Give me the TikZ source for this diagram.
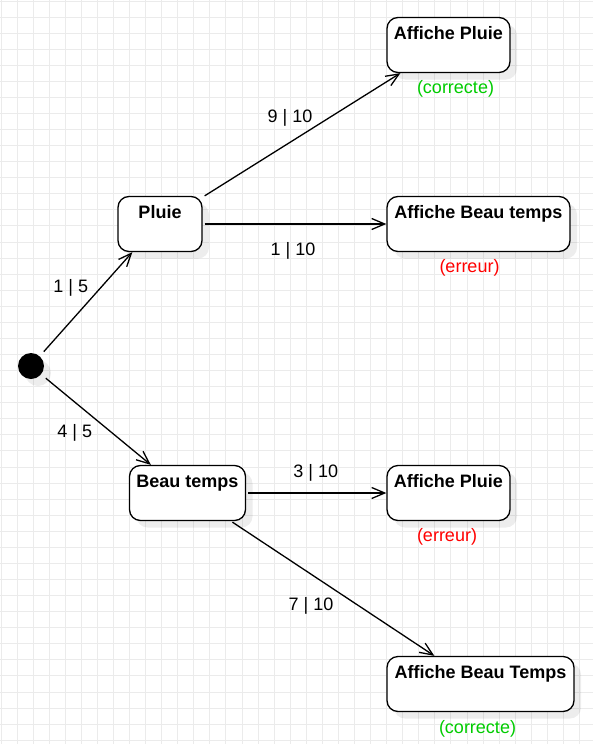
\documentclass[tikz,border=0pt]{standalone}
\usepackage{fontspec}
\setmainfont{Liberation Sans}
\usetikzlibrary{arrows.meta,shadows}
\definecolor{vert}{RGB}{0,204,0}
\definecolor{rouge}{RGB}{255,0,0}
\definecolor{grille}{RGB}{235,235,235}
\begin{document}
\begin{tikzpicture}[x=1pt, y=-1pt,
        font=\fontsize{18}{21}\selectfont,
        ombre/.style={drop shadow={shadow xshift=7pt, shadow yshift=-7pt, fill=black, opacity=0.07}},
        etat/.style={draw, fill=white, line width=1.3pt, rounded corners=11pt, minimum height=55pt, inner sep=0pt, ombre},
        titre/.style={font=\fontsize{18}{21}\selectfont\bfseries, anchor=base, inner sep=0pt, yshift=-23pt},
        correct/.style={text=vert, anchor=base, inner sep=0pt},
        faux/.style={text=rouge, anchor=base, inner sep=0pt},
        valeur/.style={anchor=base, inner sep=0pt},
        fleche/.style={line width=1.3pt, -{Straight Barb[length=13pt, width=11pt]}}]
        \useasboundingbox[fill=white] (0, 0) rectangle (593, 744);
        % grille
        \foreach \k in {0,...,36} \draw[grille, line width=1pt] (1+16.07*\k, 0) -- (1+16.07*\k, 744);
        \foreach \k in {0,...,46} \draw[grille, line width=1pt] (0, 1+16.07*\k) -- (593, 1+16.07*\k);
        % etats
        \node[circle, fill=black, minimum size=26pt, inner sep=0pt, ombre] (init) at (31, 366) {};
        \node[etat, minimum width=84pt, label={[titre]north:Pluie}] (pluie) at (160, 224) {};
        \node[etat, minimum width=116pt, label={[titre]north:Beau temps}] (beau) at (187.5, 493) {};
        \node[etat, minimum width=123pt, label={[titre]north:Affiche Pluie},
            label={[correct, xshift=7pt, yshift=-20pt]south:(correcte)}] (pluieA) at (448.5, 45) {};
        \node[etat, minimum width=183pt, label={[titre]north:Affiche Beau temps},
            label={[faux, xshift=-9pt, yshift=-20pt]south:(erreur)}] (beauA) at (478.5, 224) {};
        \node[etat, minimum width=123pt, label={[titre]north:Affiche Pluie},
            label={[faux, xshift=-1.5pt, yshift=-20pt]south:(erreur)}] (pluieB) at (448.5, 493) {};
        \node[etat, minimum width=187pt, label={[titre]north:Affiche Beau Temps},
            label={[correct, xshift=-3pt, yshift=-21pt]south:(correcte)}] (beauB) at (480.5, 684) {};
        % transitions
        \draw[fleche, shorten <=6pt] (init) -- ([xshift=15pt]pluie.south west);
        \draw[fleche, shorten <=6pt] (init) -- ([xshift=22pt]beau.north west);
        \draw[fleche] ([xshift=2pt]pluie.north east) -- ([xshift=14pt]pluieA.south west);
        \draw[fleche] ([xshift=2pt]pluie.east) -- (beauA.west);
        \draw[fleche] ([xshift=2pt]beau.east) -- (pluieB.west);
        \draw[fleche] ([xshift=-13.7pt, yshift=-1pt]beau.south east) -- ([xshift=48pt]beauB.north west);
        % probabilites
        \node[valeur] (p15) at (70.8, 292) {1 | 5};
        \node[valeur] (p45) at (74.7, 437) {4 | 5};
        \node[valeur] (p910) at (290, 122) {9 | 10};
        \node[valeur] (p110) at (293, 255) {1 | 10};
        \node[valeur] (p310) at (315.8, 477) {3 | 10};
        \node[valeur] (p710) at (311, 610) {7 | 10};
    \end{tikzpicture}
\end{document}
